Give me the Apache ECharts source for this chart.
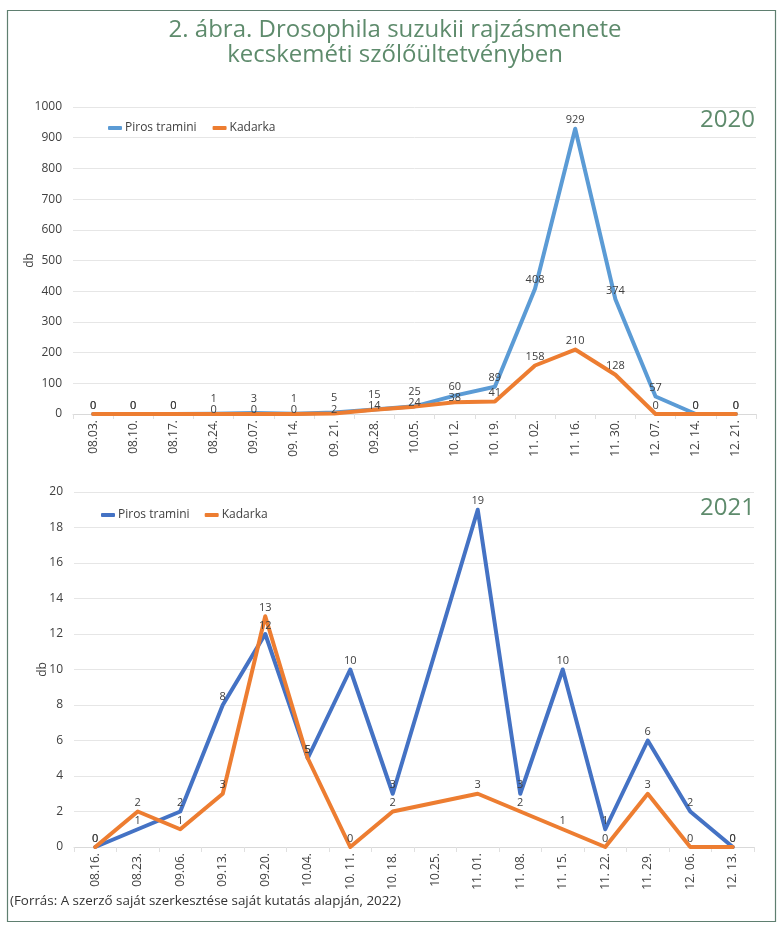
<!DOCTYPE html>
<html>
<head>
<meta charset="utf-8">
<script src="https://cdn.jsdelivr.net/npm/echarts@6/dist/echarts.min.js"></script>
<style>
html,body{margin:0;padding:0;background:#fff;}
#c{width:781px;height:925px;}
</style>
</head>
<body>
<div id="c"></div>
<script>
const cats2020 = ['08.03.','08.10.','08.17.','08.24.','09.07.','09. 14.','09. 21.','09.28.','10.05.','10. 12.','10. 19.','11. 02.','11. 16.','11. 30.','12. 07.','12. 14.','12. 21.'];
const piros2020 = [0,0,0,1,3,1,5,15,25,60,89,408,929,374,57,0,0];
const kadarka2020 = [0,0,0,0,0,0,2,14,24,38,41,158,210,128,0,0,0];
const yTicks2020 = [0,100,200,300,400,500,600,700,800,900,1000];

const cats2021 = ['08.16.','08.23.','09.06.','09.13.','09.20.','10.04.','10. 11.','10. 18.','10.25.','11. 01.','11. 08.','11. 15.','11. 22.','11. 29.','12. 06.','12. 13.'];
const piros2021 = [0,1,2,8,12,5,10,3,null,19,3,10,1,6,2,0];
const kadarka2021 = [0,2,1,3,13,5,0,2,null,3,2,1,0,3,0,0];
const yTicks2021 = [0,2,4,6,8,10,12,14,16,18,20];

const FONT = 'Open Sans';
const GREEN = '#5e8b6c';
const txt = '#404040';

function xAxis(gi, cats){
  return {
    type:'category', gridIndex:gi, data:cats, boundaryGap:true,
    axisLine:{lineStyle:{color:'#d9d9d9', width:1}},
    axisTick:{show:true, length:5, lineStyle:{color:'#e0e0e0'}},
    axisLabel:{rotate:90, color:txt, fontFamily:FONT, fontSize:12, margin:6}
  };
}
function yAxis(gi, ticks, nameGap){
  return {
    type:'value', gridIndex:gi, min:ticks[0], max:ticks[ticks.length-1], interval:ticks[1]-ticks[0],
    name:'db', nameLocation:'middle', nameGap:nameGap, nameRotate:90, nameMoveOverlap:false,
    nameTextStyle:{color:txt, fontFamily:FONT, fontSize:12},
    axisLine:{show:false}, axisTick:{show:false},
    splitLine:{lineStyle:{color:'#e6e6e6', width:1}},
    axisLabel:{color:txt, fontFamily:FONT, fontSize:12, margin:11, formatter:(v)=>String(v)}
  };
}
function series(name, data, color, gi, labelOverride){
  return {
    name:name, type:'line', xAxisIndex:gi, yAxisIndex:gi,
    data: data.map((v,i)=> (labelOverride && labelOverride(i)) ? {value:v, label:labelOverride(i)} : v),
    connectNulls:true, symbol:'circle', symbolSize:0, showSymbol:true,
    lineStyle:{color:color, width:4, cap:'round', join:'round'},
    itemStyle:{color:color},
    label:{show:true, position:'top', distance:3, color:txt, fontFamily:FONT, fontSize:11},
    emphasis:{disabled:true}, animation:false
  };
}
// crowded low region of 2020: Piros labels lifted, Kadarka labels sit on the line
const lowPiros = (i)=> (i>=3 && i<=8) ? {distance:9} : null;
const lowKadarka = (i)=> (i>=3 && i<=9) ? {position:'inside', offset:[0,-4]} : null;

const chart = echarts.init(document.getElementById('c'), null, {renderer:'canvas'});
chart.setOption({
  backgroundColor:'#fff',
  animation:false,
  title:{
    text:'2. ábra. Drosophila suzukii rajzásmenete\nkecskeméti szőlőültetvényben',
    left:390, top:13, textAlign:'center',
    textStyle:{color:GREEN, fontFamily:FONT, fontWeight:'normal', fontSize:24, lineHeight:25}
  },
  legend:[
    {data:['Piros tramini','Kadarka'], left:103, top:117, itemWidth:14, itemHeight:4, itemGap:16,
     icon:'roundRect', textStyle:{color:txt, fontFamily:FONT, fontSize:12, padding:[0,0,0,-2]}},
    {data:['Piros tramini ','Kadarka '], left:96, top:504, itemWidth:14, itemHeight:4, itemGap:12,
     icon:'roundRect', textStyle:{color:txt, fontFamily:FONT, fontSize:12, padding:[0,0,0,-2]}}
  ],
  grid:[
    {left:73, right:25, top:107, height:307, containLabel:false},
    {left:74, right:27, top:492, height:355, containLabel:false}
  ],
  xAxis:[xAxis(0, cats2020), xAxis(1, cats2021)],
  yAxis:[yAxis(0, yTicks2020, 37), yAxis(1, yTicks2021, 25)],
  series:[
    series('Piros tramini', piros2020, '#5b9bd5', 0, lowPiros),
    series('Kadarka', kadarka2020, '#ed7d31', 0, lowKadarka),
    series('Piros tramini ', piros2021, '#4472c4', 1),
    series('Kadarka ', kadarka2021, '#ed7d31', 1)
  ],
  graphic:[
    {type:'rect', shape:{x:7.5, y:10.5, width:768, height:911}, style:{fill:null, stroke:'#5f7f70', lineWidth:1.2}, z:-1},
    {type:'text', right:26, top:108, style:{text:'2020', fill:GREEN, font:'24px "Open Sans"'}},
    {type:'text', right:26, top:496, style:{text:'2021', fill:GREEN, font:'24px "Open Sans"'}},
    {type:'text', left:10, top:895, style:{text:'(Forrás: A szerző saját szerkesztése saját kutatás alapján, 2022)', fill:'#333', font:'13.4px "Open Sans"'}}
  ]
});
</script>
</body>
</html>
